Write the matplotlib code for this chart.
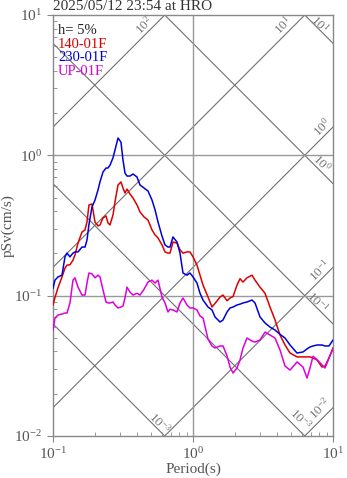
import numpy as np
import matplotlib
matplotlib.use('Agg')
import matplotlib.pyplot as plt

plt.rcParams['font.family'] = ['Liberation Serif', 'DejaVu Serif']
plt.rcParams['mathtext.fontset'] = 'custom'
plt.rcParams['mathtext.rm'] = 'Liberation Serif'
plt.rcParams['mathtext.it'] = 'Liberation Serif:italic'

# 周期 (s)
period = [0.100, 0.1033, 0.1086, 0.1160, 0.1218, 0.1259, 0.1322, 0.1389, 0.1436, 0.1509,
          0.1611, 0.1693, 0.1749, 0.1807, 0.1899, 0.1995, 0.2096, 0.2166, 0.2276, 0.2391,
          0.2471, 0.2553, 0.2683, 0.2772, 0.2913, 0.3060, 0.3162, 0.3268, 0.3377, 0.3548,
          0.3728, 0.3981, 0.4183, 0.4467, 0.4771, 0.5095, 0.5354, 0.5623, 0.6005, 0.6310,
          0.6629, 0.6849, 0.7197, 0.7686, 0.8076, 0.8483, 0.9061, 0.9519, 1.000, 1.068,
          1.122, 1.179, 1.280, 1.367, 1.436, 1.560, 1.638, 1.750, 1.838, 1.931,
          2.062, 2.166, 2.276, 2.430, 2.639, 2.773, 3.010, 3.268, 3.548, 3.853,
          4.183, 4.542, 4.932, 5.534, 6.105, 6.520, 6.851, 7.197, 7.687, 8.346,
          8.769, 9.363, 10.00]

# 140-01F
psv_140 = [0.0858, 0.097, 0.114, 0.136, 0.157, 0.165, 0.166, 0.179, 0.195, 0.237,
           0.284, 0.294, 0.335, 0.443, 0.450, 0.335, 0.314, 0.319, 0.358, 0.370,
           0.330, 0.319, 0.376, 0.465, 0.615, 0.646, 0.585, 0.539, 0.575, 0.530,
           0.497, 0.443, 0.395, 0.364, 0.346, 0.294, 0.271, 0.258, 0.230, 0.205,
           0.201, 0.201, 0.241, 0.237, 0.212, 0.201, 0.205, 0.205, 0.189, 0.165,
           0.140, 0.119, 0.0978, 0.0830, 0.088, 0.0978, 0.101, 0.092, 0.0962, 0.0985,
           0.119, 0.132, 0.125, 0.134, 0.140, 0.129, 0.115, 0.104, 0.0830, 0.0671,
           0.0524, 0.0445, 0.0390, 0.0366, 0.0366, 0.0366, 0.0366, 0.0360, 0.0348, 0.0310,
           0.0315, 0.0360, 0.0424]

# 230-01F
psv_230 = [0.113, 0.129, 0.136, 0.140, 0.189, 0.201, 0.189, 0.201, 0.205, 0.205,
           0.222, 0.222, 0.249, 0.322, 0.428, 0.480, 0.566, 0.646, 0.760, 0.812,
           0.812, 0.850, 0.960, 1.091, 1.329, 1.240, 0.926, 0.748, 0.712, 0.712,
           0.736, 0.701, 0.615, 0.585, 0.557, 0.480, 0.410, 0.335, 0.266, 0.230,
           0.222, 0.222, 0.262, 0.241, 0.201, 0.145, 0.140, 0.145, 0.136, 0.123,
           0.104, 0.0931, 0.0830, 0.0791, 0.0705, 0.0649, 0.0671, 0.0765, 0.0817, 0.0830,
           0.0858, 0.087, 0.0887, 0.0901, 0.0931, 0.0887, 0.0705, 0.0639, 0.0597, 0.0569,
           0.053, 0.0499, 0.0445, 0.0390, 0.0397, 0.0417, 0.0431, 0.0438, 0.0445, 0.0445,
           0.0438, 0.0438, 0.0483]

# UP-01F
psv_up = [0.0569, 0.0693, 0.0728, 0.0740, 0.0752, 0.0752, 0.0887, 0.129, 0.134, 0.115,
          0.101, 0.101, 0.123, 0.145, 0.143, 0.134, 0.140, 0.136, 0.110, 0.0901,
          0.0887, 0.0887, 0.0901, 0.0858, 0.0817, 0.0830, 0.0844, 0.0962, 0.115, 0.106,
          0.101, 0.104, 0.101, 0.111, 0.125, 0.129, 0.123, 0.129, 0.0978, 0.0887,
          0.0765, 0.080, 0.0791, 0.0765, 0.0887, 0.0962, 0.0858, 0.0817, 0.0817, 0.0791,
          0.0716, 0.0693, 0.049, 0.0438, 0.0424, 0.0438, 0.0438, 0.0372, 0.0310, 0.0281,
          0.0305, 0.0348, 0.0424, 0.0499, 0.0475, 0.0467, 0.0483, 0.055, 0.0524, 0.0499,
          0.0410, 0.0315, 0.0295, 0.0337, 0.031, 0.0259, 0.0305, 0.037, 0.035, 0.0321,
          0.0305, 0.0360, 0.0417]

series = [('140-01F', psv_140, '#dd0000'),
          ('230-01F', psv_230, '#0000dd'),
          ('UP-01F', psv_up, '#dd00dd')]

# 等变位线 (cm) 和 等加速度线 (cm/s2)
disp_levels = [1e-3, 1e-2, 1e-1, 1e0, 1e1]
acc_levels = [1e-2, 1e-1, 1e0, 1e1, 1e2]

fig = plt.figure(figsize=(3.47, 4.78), dpi=100)
ax = fig.add_axes([0.1527, 0.0879, 0.807, 0.8807])
ax.set_xscale('log')
ax.set_yscale('log')
ax.set_xlim(0.1, 10)
ax.set_ylim(0.01, 10)

T = np.array([0.1, 10.0])
for d in disp_levels:
    ax.plot(T, 2 * np.pi * d / T, color='#707070', lw=0.8, zorder=1)
for a in acc_levels:
    ax.plot(T, a * T / (2 * np.pi), color='#707070', lw=0.8, zorder=1)

# 斜线上的标注
lab_kw = dict(textcoords='offset pixels', ha='center', va='center',
              fontsize=9.5, color='#777777', annotation_clip=False)
acc_labels = [(r'$10^{2}$', 2 * np.pi / 10, 10, (-21, -10)),
              (r'$10^{1}$', 2 * np.pi, 10, (-22, -10)),
              (r'$10^{0}$', 10, 10 / (2 * np.pi), (-11, 0)),
              (r'$10^{-1}$', 10, 1 / (2 * np.pi), (-13, -3)),
              (r'$10^{-2}$', 10, 0.1 / (2 * np.pi), (-13, -1))]
for txt, x, y, off in acc_labels:
    ax.annotate(txt, xy=(x, y), xytext=off, rotation=45, **lab_kw)
disp_labels = [(r'$10^{1}$', 10, 2 * np.pi, (-13, 19)),
               (r'$10^{0}$', 10, 0.2 * np.pi, (-11, 20)),
               (r'$10^{-1}$', 10, 0.02 * np.pi, (-16, 22)),
               (r'$10^{-3}$', 0.2 * np.pi, 0.01, (-5, 13)),
               (r'$10^{-3}$', 2 * np.pi, 0.01, (-4, 17))]
for txt, x, y, off in disp_labels:
    ax.annotate(txt, xy=(x, y), xytext=off, rotation=-45, **lab_kw)

# 十进制网格
ax.axvline(1, color='#999999', lw=1.0, zorder=1)
for yv in [0.1, 1]:
    ax.axhline(yv, color='#999999', lw=1.0, zorder=1)

for name, vals, col in series:
    ax.plot(period, vals, color=col, lw=1.1, zorder=3)

for sp in ax.spines.values():
    sp.set_color('#888888')
    sp.set_linewidth(1.0)
ax.tick_params(which='major', direction='out', length=4, color='#888888',
               labelcolor='#555555', labelsize=11)
ax.tick_params(which='minor', direction='in', length=3, color='#888888')
ax.set_xlabel('Period(s)', color='#555555', fontsize=11, labelpad=0)
ax.set_ylabel('pSv(cm/s)', color='#555555', fontsize=11, labelpad=0)

fig.text(0.1527, 0.979, '2025/05/12 23:54 at HRO', color='#333333',
         fontsize=11, ha='left', va='baseline')

ax.text(0.018, 0.964, 'h= 5%', color='#222222', fontsize=10.5,
        transform=ax.transAxes, va='center', zorder=4)
for i, (name, vals, col) in enumerate(series):
    ax.text(0.018, 0.931 - 0.033 * i, name, color=col, fontsize=10.5,
            transform=ax.transAxes, va='center', zorder=4)

fig.savefig('out.png', dpi=100)
